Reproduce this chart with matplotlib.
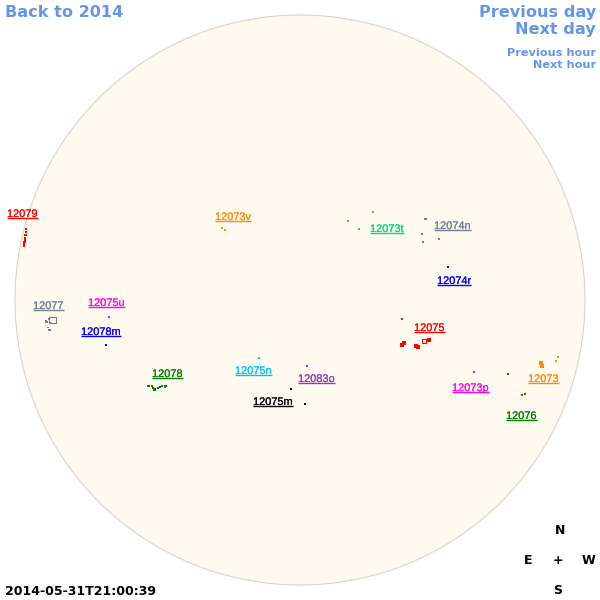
import matplotlib
matplotlib.use('Agg')
import matplotlib.pyplot as plt
import matplotlib.patheffects as pe
from matplotlib.patches import Circle

# everything in pixels
disk_x, disk_y, disk_r = 300, 300, 285

region_names = ['12079', '12077', '12075u', '12078m', '12078', '12073v', '12073t', '12074n',
                '12074r', '12075', '12075n', '12083o', '12075m', '12073p', '12076', '12073']
region_colors = ['red', 'slategray', 'magenta', 'blue', 'green', 'darkorange', '#00dd77', 'slategray',
                 'blue', 'red', 'deepskyblue', 'darkorchid', 'black', 'magenta', 'green', 'darkorange']
label_x = [7, 33, 88, 81, 152, 215, 370, 434, 437, 414, 235, 298, 253, 452, 506, 528]
label_y = [218, 310, 307, 336, 378, 221, 233, 230, 285, 332, 375, 383, 406, 392, 420, 383]

spots_x = [[26, 26, 25.5, 25, 25, 24.5, 24, 24, 25],
           [46, 47, 49, 50, 48, 49.5],
           [109],
           [106],
           [148.5, 152, 153, 154.5, 158, 160, 162, 165, 166],
           [222, 225],
           [373, 348, 359],
           [425.5, 422, 423, 439],
           [448],
           [402, 402, 404, 416, 418, 429],
           [259],
           [307],
           [291, 305],
           [474],
           [508, 522, 525],
           [541, 542, 556, 558]]
spots_y = [[229, 232, 235, 238, 240, 242, 244, 246, 240],
           [321.5, 322, 319, 323, 327.5, 330],
           [317],
           [345],
           [386, 386, 388, 389.5, 388, 387, 386, 386.5, 386],
           [228, 230],
           [212, 221, 229],
           [219, 234, 242, 239],
           [267],
           [319, 345, 343, 346, 347, 340],
           [358],
           [366],
           [389, 404],
           [372],
           [374, 395, 394],
           [363, 366, 361, 357]]
spots_s = [[3.5, 3.5, 3.5, 3.5, 3.5, 3.5, 3.5, 3.5, 3.5],
           [4, 4, 3, 3, 2, 2.5],
           [0.8],
           [1.5],
           [3.5, 3.5, 3.5, 3.5, 2.5, 2.5, 2.5, 3.5, 3.5],
           [1, 0.7],
           [0.8, 0.8, 3],
           [3, 0.8, 0.8, 0.8],
           [1],
           [0.8, 5, 5, 5, 5, 5],
           [3],
           [1],
           [1.5, 1],
           [2],
           [0.8, 0.8, 4],
           [5, 5, 1, 1]]

# hollow spots
ring_x = [52.5, 424]
ring_y = [320, 341]
ring_s = [20, 9]
ring_colors = ['slategray', 'red']

fig = plt.figure(figsize=(6, 6), dpi=100)
ax = fig.add_axes([0, 0, 1, 1])
ax.set_xlim(0, 600)
ax.set_ylim(600, 0)
ax.axis('off')

ax.add_patch(Circle((disk_x, disk_y), disk_r, facecolor='#fffaf0', edgecolor='#d8d4c8', linewidth=0.8))

for xs, ys, ss, c in zip(spots_x, spots_y, spots_s, region_colors):
    ax.scatter(xs, ys, s=ss, c=c, marker='s', linewidths=0)
ax.scatter(ring_x, ring_y, s=ring_s, facecolors='none', edgecolors=ring_colors, marker='s', linewidths=0.8)

renderer = fig.canvas.get_renderer()
inv = ax.transData.inverted()
for name, c, x, y in zip(region_names, region_colors, label_x, label_y):
    t = ax.text(x, y - 1, name, color=c, fontsize=7.9, family='Liberation Sans',
                ha='left', va='baseline')
    # the reference labels look heavier than plain Liberation
    t.set_path_effects([pe.withStroke(linewidth=0.12, foreground=c)])
    # matplotlib has no underlined text, so draw it under the label
    right = inv.transform(t.get_window_extent(renderer).get_points())[1][0]
    ax.plot([x, right], [y, y], color=c, lw=1, solid_capstyle='butt')

link = 'cornflowerblue'
ax.text(5, 17, 'Back to 2014', color=link, fontsize=11.6, fontweight='bold', ha='left', va='baseline')
ax.text(596, 17, 'Previous day', color=link, fontsize=11.6, fontweight='bold', ha='right', va='baseline')
ax.text(596, 34, 'Next day', color=link, fontsize=11.6, fontweight='bold', ha='right', va='baseline')
ax.text(596, 56, 'Previous hour', color=link, fontsize=8.1, fontweight='bold', ha='right', va='baseline')
ax.text(596, 68, 'Next hour', color=link, fontsize=8.1, fontweight='bold', ha='right', va='baseline')

ax.text(5, 595, '2014-05-31T21:00:39', color='black', fontsize=9, fontweight='bold', ha='left', va='baseline')

ax.text(560, 534, 'N', fontsize=9, fontweight='bold', ha='center', va='baseline')
ax.text(528, 564, 'E', fontsize=9, fontweight='bold', ha='center', va='baseline')
ax.text(558, 564, '+', fontsize=9, fontweight='bold', ha='center', va='baseline')
ax.text(589, 564, 'W', fontsize=9, fontweight='bold', ha='center', va='baseline')
ax.text(558, 594, 'S', fontsize=9, fontweight='bold', ha='center', va='baseline')

plt.savefig('out.png', dpi=100)
